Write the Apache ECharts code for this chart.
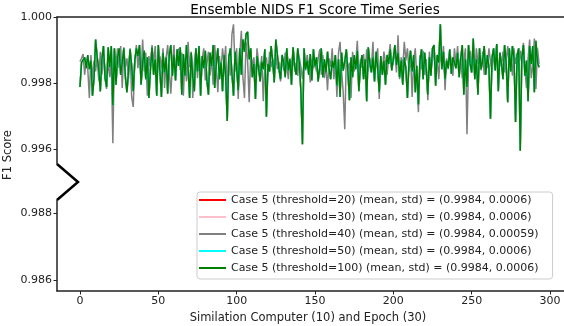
<!DOCTYPE html>
<html>
<head>
<meta charset="utf-8">
<script src="https://cdn.jsdelivr.net/npm/echarts@6/dist/echarts.min.js"></script>
<style>
  html, body { margin: 0; padding: 0; background: #fff; }
  #chart { width: 564px; height: 326px; }
</style>
</head>
<body>
<div id="chart"></div>
<script>
// F1 score per step (computer x epoch)
const greenVals = [
  0.99788, 0.99862, 0.99858, 0.99878, 0.99845, 0.99885, 0.99842, 0.99868, 0.99762, 0.99815,
  0.99932, 0.99878, 0.99842, 0.99775, 0.99872, 0.99912, 0.99815, 0.99788, 0.99908, 0.99848,
  0.99912, 0.99733, 0.99905, 0.99795, 0.99878, 0.99905, 0.99825, 0.99862, 0.99905, 0.99818,
  0.99772, 0.99838, 0.99902, 0.99852, 0.99775, 0.99868, 0.99905, 0.99882, 0.99915, 0.99795,
  0.99862, 0.99898, 0.99812, 0.99878, 0.99755, 0.99842, 0.99908, 0.99825, 0.99872, 0.99762,
  0.99915, 0.99838, 0.99758, 0.99892, 0.99832, 0.99878, 0.99768, 0.99885, 0.99915, 0.99822,
  0.99885, 0.99808, 0.99902, 0.99852, 0.99908, 0.99765, 0.99888, 0.99822, 0.99915, 0.99845,
  0.99755, 0.99892, 0.99818, 0.99775, 0.99905, 0.99835, 0.99912, 0.99762, 0.99882, 0.99845,
  0.99898, 0.99808, 0.99765, 0.99892, 0.99852, 0.99915, 0.99785, 0.99858, 0.99905, 0.99812,
  0.99862, 0.99775, 0.99885, 0.99818, 0.99685, 0.99878, 0.99905, 0.99828, 0.99762, 0.99895,
  0.99845, 0.99778, 0.99905, 0.99825, 0.99932, 0.99895, 0.99948, 0.99955, 0.99872, 0.99905,
  0.99818, 0.99858, 0.99752, 0.99882, 0.99845, 0.99805, 0.99865, 0.99842, 0.99902, 0.99698,
  0.99858, 0.99835, 0.99912, 0.99868, 0.99802, 0.99932, 0.99885, 0.99842, 0.99812, 0.99885,
  0.99862, 0.99818, 0.99905, 0.99838, 0.99872, 0.99795, 0.99908, 0.99852, 0.99825, 0.99905,
  0.99862, 0.99775, 0.99615, 0.99905, 0.99842, 0.99868, 0.99825, 0.99888, 0.99808, 0.99902,
  0.99852, 0.99878, 0.99805, 0.99845, 0.99905, 0.99818, 0.99872, 0.99832, 0.99895, 0.99842,
  0.99812, 0.99868, 0.99845, 0.99885, 0.99792, 0.99872, 0.99758, 0.99892, 0.99838, 0.99865,
  0.99902, 0.99835, 0.99748, 0.99878, 0.99818, 0.99885, 0.99842, 0.99898, 0.99775, 0.99852,
  0.99885, 0.99812, 0.99872, 0.99745, 0.99908, 0.99862, 0.99832, 0.99878, 0.99805, 0.99895,
  0.99845, 0.99772, 0.99882, 0.99825, 0.99868, 0.99795, 0.99885, 0.99858, 0.99902, 0.99838,
  0.99875, 0.99915, 0.99855, 0.99892, 0.99818, 0.99868, 0.99795, 0.99878, 0.99845, 0.99755,
  0.99862, 0.99898, 0.99835, 0.99885, 0.99772, 0.99852, 0.99735, 0.99868, 0.99902, 0.99812,
  0.99892, 0.99842, 0.99765, 0.99878, 0.99822, 0.99905, 0.99915, 0.99792, 0.99885, 0.99862,
  0.99978, 0.99842, 0.99895, 0.99812, 0.99868, 0.99845, 0.99902, 0.99828, 0.99878, 0.99862,
  0.99845, 0.99892, 0.99818, 0.99875, 0.99915, 0.99765, 0.99872, 0.99788, 0.99915, 0.99858,
  0.99832, 0.99935, 0.99812, 0.99872, 0.99765, 0.99905, 0.99842, 0.99868, 0.99912, 0.99825,
  0.99885, 0.99848, 0.99692, 0.99878, 0.99905, 0.99838, 0.99918, 0.99775, 0.99892, 0.99858,
  0.99812, 0.99915, 0.99862, 0.99742, 0.99905, 0.99835, 0.99912, 0.99878, 0.99682, 0.99885,
  0.99905, 0.99595, 0.99878, 0.99915, 0.99822, 0.99868, 0.99745, 0.99912, 0.99858, 0.99912,
  0.99772, 0.99928, 0.99862, 0.99848
];

const greyVals = [
  0.99865, 0.99875, 0.99888, 0.99825, 0.99872, 0.99842, 0.99755, 0.99885, 0.99812, 0.99868,
  0.99835, 0.99878, 0.99808, 0.99895, 0.99825, 0.99885, 0.99848, 0.99782, 0.99872, 0.99818,
  0.99865, 0.99618, 0.99898, 0.99855, 0.99905, 0.99845, 0.99912, 0.99785, 0.99908, 0.99848,
  0.99875, 0.99812, 0.99905, 0.99758, 0.99728, 0.99862, 0.99915, 0.99845, 0.99905, 0.99822,
  0.99932, 0.99835, 0.99892, 0.99762, 0.99882, 0.99848, 0.99915, 0.99855, 0.99912, 0.99818,
  0.99865, 0.99882, 0.99845, 0.99905, 0.99785, 0.99878, 0.99915, 0.99835, 0.99768, 0.99858,
  0.99915, 0.99822, 0.99862, 0.99905, 0.99838, 0.99892, 0.99762, 0.99875, 0.99805, 0.99925,
  0.99848, 0.99895, 0.99755, 0.99862, 0.99905, 0.99815, 0.99888, 0.99835, 0.99872, 0.99905,
  0.99808, 0.99858, 0.99895, 0.99822, 0.99878, 0.99795, 0.99915, 0.99848, 0.99772, 0.99882,
  0.99835, 0.99905, 0.99858, 0.99912, 0.99745, 0.99888, 0.99822, 0.99948, 0.99978, 0.99835,
  0.99905, 0.99752, 0.99885, 0.99958, 0.99818, 0.99755, 0.99925, 0.99868, 0.99742, 0.99892,
  0.99845, 0.99878, 0.99805, 0.99905, 0.99862, 0.99835, 0.99882, 0.99745, 0.99858, 0.99878,
  0.99825, 0.99895, 0.99848, 0.99872, 0.99815, 0.99885, 0.99842, 0.99865, 0.99805, 0.99878,
  0.99838, 0.99892, 0.99855, 0.99812, 0.99875, 0.99845, 0.99905, 0.99835, 0.99862, 0.99822,
  0.99878, 0.99848, 0.99812, 0.99862, 0.99838, 0.99885, 0.99855, 0.99802, 0.99872, 0.99845,
  0.99858, 0.99835, 0.99872, 0.99902, 0.99825, 0.99885, 0.99815, 0.99855, 0.99778, 0.99875,
  0.99848, 0.99905, 0.99812, 0.99868, 0.99758, 0.99892, 0.99925, 0.99835, 0.99772, 0.99660,
  0.99885, 0.99842, 0.99862, 0.99755, 0.99895, 0.99835, 0.99858, 0.99928, 0.99815, 0.99872,
  0.99845, 0.99888, 0.99818, 0.99902, 0.99835, 0.99875, 0.99845, 0.99925, 0.99812, 0.99858,
  0.99905, 0.99752, 0.99872, 0.99838, 0.99895, 0.99862, 0.99825, 0.99878, 0.99918, 0.99842,
  0.99865, 0.99898, 0.99832, 0.99945, 0.99812, 0.99878, 0.99845, 0.99925, 0.99868, 0.99905,
  0.99835, 0.99882, 0.99758, 0.99868, 0.99905, 0.99812, 0.99712, 0.99885, 0.99842, 0.99898,
  0.99825, 0.99872, 0.99748, 0.99895, 0.99845, 0.99868, 0.99905, 0.99835, 0.99878, 0.99812,
  0.99892, 0.99858, 0.99912, 0.99778, 0.99875, 0.99842, 0.99895, 0.99868, 0.99822, 0.99905,
  0.99855, 0.99912, 0.99835, 0.99878, 0.99815, 0.99865, 0.99905, 0.99645, 0.99862, 0.99898,
  0.99842, 0.99882, 0.99818, 0.99905, 0.99858, 0.99878, 0.99838, 0.99895, 0.99825, 0.99872,
  0.99845, 0.99905, 0.99865, 0.99832, 0.99888, 0.99855, 0.99918, 0.99812, 0.99878, 0.99848,
  0.99895, 0.99832, 0.99868, 0.99912, 0.99845, 0.99878, 0.99822, 0.99905, 0.99858, 0.99885,
  0.99835, 0.99898, 0.99862, 0.99922, 0.99838, 0.99785, 0.99875, 0.99932, 0.99815, 0.99852,
  0.99935, 0.99782, 0.99905, 0.99858
];

// thresholds 20, 30 and 50 sit exactly under the threshold=100 line
const seriesNames = [
  'Case 5 (threshold=20) (mean, std) = (0.9984, 0.0006)',
  'Case 5 (threshold=30) (mean, std) = (0.9984, 0.0006)',
  'Case 5 (threshold=40) (mean, std) = (0.9984, 0.00059)',
  'Case 5 (threshold=50) (mean, std) = (0.9984, 0.0006)',
  'Case 5 (threshold=100) (mean, std) = (0.9984, 0.0006)'
];
const seriesColors = ['#ff0000', '#ffc0cb', '#808080', '#00ffff', '#008000'];
const seriesValues = [greenVals, greenVals, greyVals, greenVals, greenVals];

const xTicks = [0, 50, 100, 150, 200, 250, 300];
const yTicksTop = [0.996, 0.998, 1.000];
const yTicksBottom = [0.986, 0.988];

const FONT = 'DejaVu Sans';
const INK = '#222';

const chart = echarts.init(document.getElementById('chart'), null, { renderer: 'canvas' });

function yAxisFor(grid, min, max, ticks) {
  return {
    type: 'value', gridIndex: grid, min: min, max: max,
    axisLine: { show: true, onZero: false, lineStyle: { color: INK, width: 1.5 } },
    axisTick: { show: true, length: 3.5, customValues: ticks, lineStyle: { color: INK, width: 1 } },
    axisLabel: { customValues: ticks, color: INK, fontFamily: FONT, fontSize: 11, margin: 5,
      formatter: v => v.toFixed(3) },
    splitLine: { show: false }
  };
}

// the plot runs off the right edge of the picture, as in the reference
const xMin = -14.65, xMax = 308.92;

chart.setOption({
  animation: false,
  textStyle: { fontFamily: FONT },
  title: {
    text: 'Ensemble NIDS F1 Score Time Series',
    left: 310, top: -2, textAlign: 'center',
    textStyle: { fontFamily: FONT, fontSize: 13.5, fontWeight: 'normal', color: '#000' }
  },
  grid: [
    { left: 57, right: -2, top: 17, height: 147 },
    { left: 57, right: -2, top: 200, height: 91 }
  ],
  xAxis: [
    { type: 'value', gridIndex: 0, min: xMin, max: xMax, position: 'top',
      axisLine: { show: true, onZero: false, lineStyle: { color: INK, width: 1.5 } },
      axisTick: { show: false }, axisLabel: { show: false }, splitLine: { show: false } },
    { type: 'value', gridIndex: 1, min: xMin, max: xMax, position: 'bottom',
      axisLine: { show: true, onZero: false, lineStyle: { color: INK, width: 1.5 } },
      axisTick: { show: true, length: 3.5, customValues: xTicks, lineStyle: { color: INK } },
      axisLabel: { customValues: xTicks, color: INK, fontFamily: FONT, fontSize: 11, margin: 5 },
      splitLine: { show: false } }
  ],
  yAxis: [
    yAxisFor(0, 0.99555, 1.0, yTicksTop),
    yAxisFor(1, 0.98567, 0.98839, yTicksBottom)
  ],
  legend: {
    orient: 'vertical', left: 197, top: 192,
    padding: [1, 14, 4, 2], itemGap: 3,
    itemWidth: 27, itemHeight: 2,
    icon: 'rect',
    borderColor: '#cccccc', borderWidth: 1, borderRadius: 3,
    backgroundColor: 'rgba(255,255,255,0.8)',
    textStyle: { fontFamily: FONT, fontSize: 11, color: INK, lineHeight: 14 },
    data: seriesNames
  },
  series: seriesNames.map((name, k) => ({
    name: name, type: 'line', xAxisIndex: 0, yAxisIndex: 0,
    data: seriesValues[k].map((v, i) => [i, v]),
    showSymbol: false, symbol: 'none',
    lineStyle: { color: seriesColors[k], width: 1.5 },
    itemStyle: { color: seriesColors[k] }
  })),
  graphic: [
    { type: 'polyline', shape: { points: [[57, 164], [78, 182], [57, 200]] },
      style: { stroke: '#000', lineWidth: 2.5, fill: null } },
    { type: 'text', x: 8, y: 155, rotation: Math.PI / 2,
      style: { text: 'F1 Score', font: '11.5px "DejaVu Sans"', fill: INK,
        textAlign: 'center', textVerticalAlign: 'middle' } },
    { type: 'text', x: 308, y: 318,
      style: { text: 'Similation Computer (10) and Epoch (30)', font: '11.5px "DejaVu Sans"', fill: INK,
        textAlign: 'center', textVerticalAlign: 'middle' } }
  ]
});
</script>
</body>
</html>
